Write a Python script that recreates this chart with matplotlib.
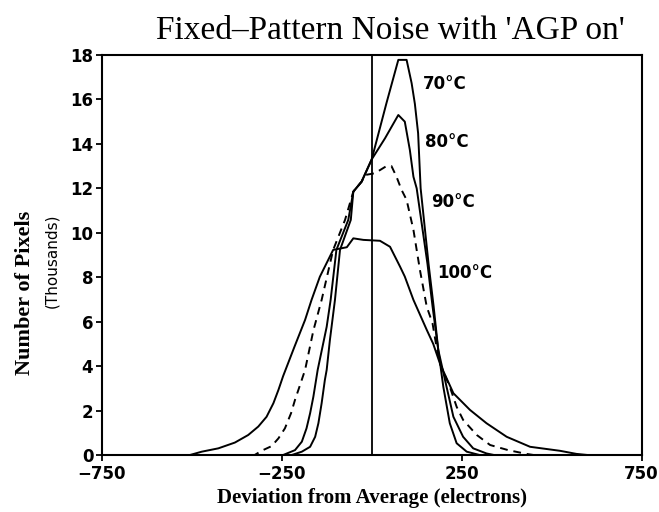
import numpy as np
import matplotlib
matplotlib.use('Agg')
import matplotlib.pyplot as plt

# curves (x in electrons, y in thousands of pixels)
x70 = [-750, -222, -194, -171, -157, -148, -139, -130, -125, -116, -102, -88, -58, -51, -28, 0, 41, 74, 97, 111, 120, 129, 136, 158, 172, 185, 199, 217, 236, 264, 300, 750]
y70 = [0, 0, 0.15, 0.37, 0.82, 1.43, 2.33, 3.38, 3.83, 5.18, 6.98, 9.23, 10.58, 11.85, 12.3, 13.3, 15.83, 17.78, 17.78, 16.73, 15.8, 14.48, 12.0, 8.6, 6.7, 4.73, 3.07, 1.43, 0.53, 0.15, 0, 0]

x80 = [-750, -246, -213, -194, -181, -171, -162, -150, -125, -114, -98, -65, -51, -28, 0, 37, 74, 92, 106, 116, 125, 155, 169, 185, 208, 227, 254, 282, 319, 340, 750]
y80 = [0, 0, 0.22, 0.6, 1.2, 1.88, 2.62, 3.83, 5.77, 6.98, 9.23, 10.58, 11.85, 12.3, 13.3, 14.25, 15.3, 15.0, 13.73, 12.52, 12.0, 8.6, 6.7, 4.73, 3.07, 1.72, 0.82, 0.3, 0.07, 0, 0]

x90 = [-750, -325, -306, -278, -259, -241, -224, -213, -199, -185, -162, -139, -107, -74, -51, -28, -18, 9, 41, 55, 69, 83, 97, 116, 134, 153, 169, 180, 190, 217, 236, 254, 292, 329, 379, 430, 450, 750]
y90 = [0, 0, 0.19, 0.4, 0.75, 1.2, 1.88, 2.48, 3.15, 3.83, 5.6, 6.98, 9.23, 10.58, 11.85, 12.3, 12.6, 12.68, 13.0, 13.0, 12.52, 11.93, 11.48, 10.13, 8.33, 6.67, 5.93, 4.87, 4.1, 3.07, 2.17, 1.58, 0.9, 0.45, 0.22, 0.05, 0, 0]

x100 = [-750, -505, -472, -426, -380, -343, -315, -292, -273, -259, -246, -215, -185, -167, -144, -107, -69, -51, -23, 23, 51, 79, 92, 116, 153, 171, 190, 227, 273, 319, 375, 440, 523, 569, 600, 750]
y100 = [0, 0, 0.15, 0.3, 0.56, 0.9, 1.28, 1.72, 2.33, 2.93, 3.55, 4.85, 6.08, 6.98, 8.02, 9.23, 9.35, 9.75, 9.68, 9.64, 9.37, 8.47, 8.03, 6.98, 5.63, 5.0, 4.1, 2.78, 2.03, 1.43, 0.82, 0.37, 0.19, 0.05, 0, 0]

labels = ['70°C', '80°C', '90°C', '100°C']
label_pos = [(143, 16.7), (148, 14.1), (166, 11.4), (182, 8.2)]

xticks = [-750, -250, 250, 750]
yticks = list(range(0, 19, 2))

fig = plt.figure(figsize=(6.59, 5.12), dpi=100)
ax = fig.add_axes([0.1543, 0.1113, 0.8194, 0.7813])

ax.plot(x70, y70, color='black', lw=1.4)
ax.plot(x80, y80, color='black', lw=1.4)
ax.plot(x90, y90, color='black', lw=1.4, dashes=(4, 3))
ax.plot(x100, y100, color='black', lw=1.4)
ax.axvline(0, color='black', lw=1.3)

for lab, (lx, ly) in zip(labels, label_pos):
    ax.text(lx, ly, lab, fontsize=12, fontweight='bold', family='DejaVu Sans', va='center')

ax.set_xlim(-750, 750)
ax.set_ylim(0, 18)
ax.set_xticks(xticks)
ax.set_xticklabels(['\u2212750', '\u2212250', '250', '750'])
ax.set_yticks(yticks)
for lbl in ax.get_xticklabels() + ax.get_yticklabels():
    lbl.set_fontfamily('DejaVu Sans')
    lbl.set_fontweight('bold')
    lbl.set_fontsize(12)
ax.tick_params(direction='out', length=4, width=1.3, pad=2)
ax.tick_params(axis='x', pad=3)
for s in ax.spines.values():
    s.set_linewidth(1.5)

fig.text(0.592, 0.940, "Fixed\u2013Pattern Noise with 'AGP on'", ha='center', va='center',
         fontsize=24, family='Liberation Serif')
fig.text(0.565, 0.028, 'Deviation from Average (electrons)', ha='center', va='center',
         fontsize=15, fontweight='bold', family='Liberation Serif')
fig.text(0.038, 0.428, 'Number of Pixels', rotation=90, ha='center', va='center',
         fontsize=16, fontweight='bold', family='Liberation Serif')
fig.text(0.079, 0.49, '(Thousands)', rotation=90, ha='center', va='center',
         fontsize=11, family='DejaVu Sans')

fig.savefig('out.png', dpi=100)
